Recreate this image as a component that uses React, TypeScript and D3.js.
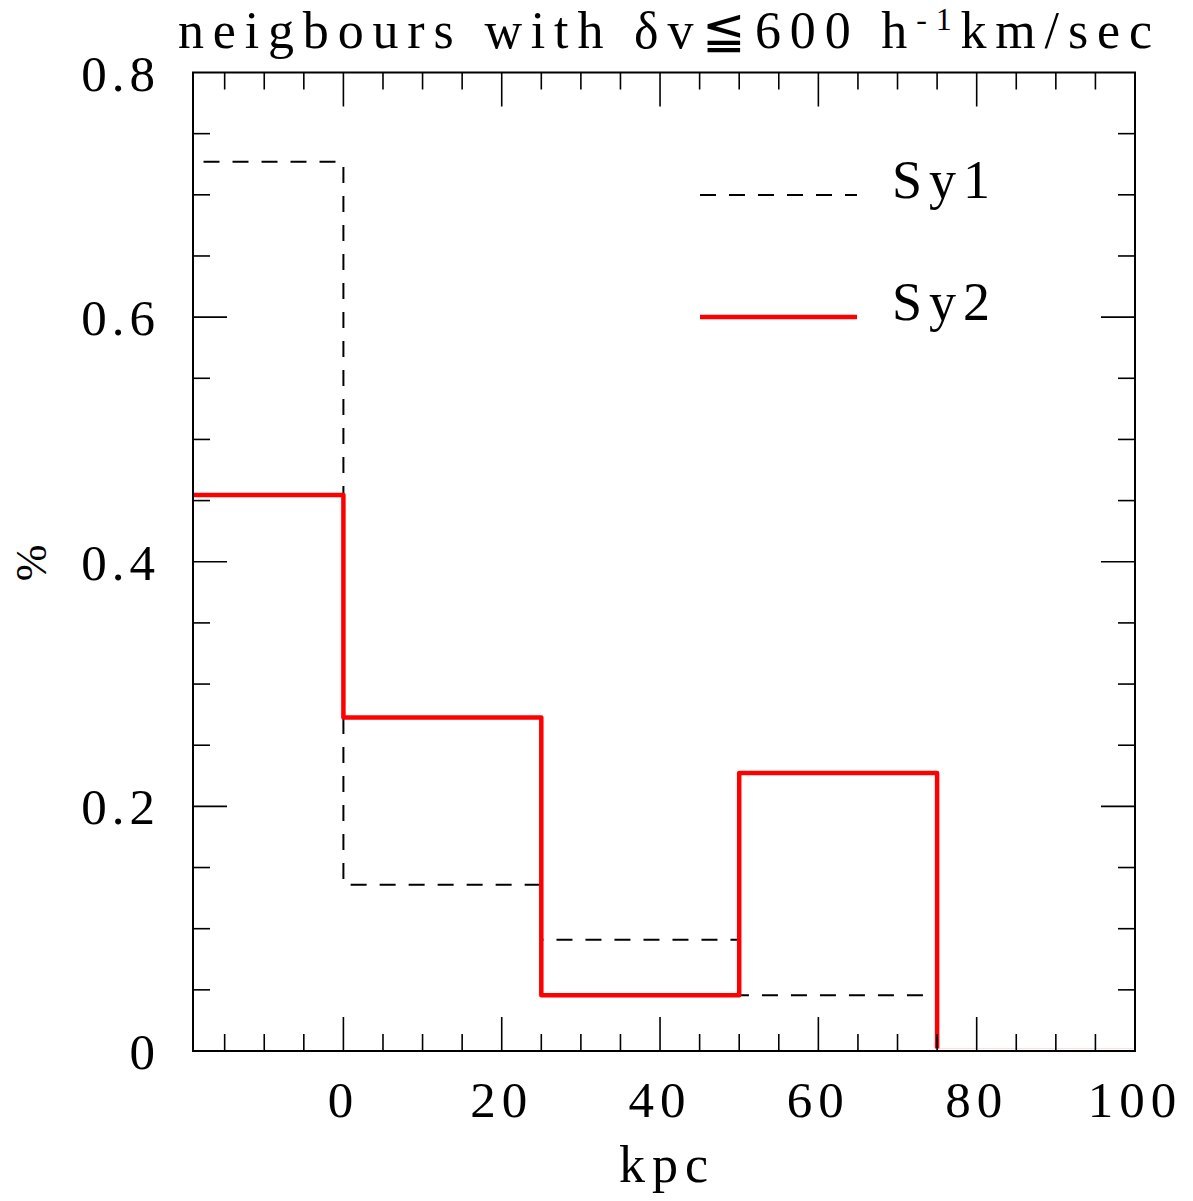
import React, { useRef, useEffect } from 'react';
import * as d3 from 'd3';

// bin edges in kpc, fraction per bin
const binEdges = [-25, 0, 25, 50, 75, 100];
const sy1Values = [0.727, 0.136, 0.0909, 0.0455, 0];
const sy2Values = [0.4545, 0.2727, 0.0455, 0.2273, 0];
const xTickLabels = [0, 20, 40, 60, 80, 100];
const yTickLabels = [0, 0.2, 0.4, 0.6, 0.8];
const seriesNames = ['Sy1', 'Sy2'];

const FONT = '"Liberation Serif", "DejaVu Serif", serif';

const App = () => {
  const ref = useRef<SVGSVGElement>(null);

  useEffect(() => {
    const svg = d3.select(ref.current);
    svg.selectAll('*').remove();

    const left = 193, right = 1135, top = 72.5, bottom = 1051;

    const x = d3.scaleLinear().domain([-19, 100]).range([left, right]);
    const y = d3.scaleLinear().domain([0, 0.8]).range([bottom, top]);

    // clip just above the x axis so the zero-level part hides under the frame
    svg.append('defs').append('clipPath').attr('id', 'plot-clip')
      .append('rect')
      .attr('x', left).attr('y', top)
      .attr('width', right - left).attr('height', bottom - top - 2.5);

    const stepPoints = (vals: number[]) => {
      const pts = vals.map((v, i) => [binEdges[i], v] as [number, number]);
      pts.push([binEdges[binEdges.length - 1], vals[vals.length - 1]]);
      return pts;
    };

    const line = d3.line<[number, number]>()
      .x(d => x(d[0]))
      .y(d => y(d[1]))
      .curve(d3.curveStepAfter);

    const g = svg.append('g').attr('clip-path', 'url(#plot-clip)');

    g.append('path')
      .datum(stepPoints(sy1Values))
      .attr('fill', 'none')
      .attr('stroke', 'black')
      .attr('stroke-width', 2)
      .attr('stroke-dasharray', '16,13')
      .attr('d', line);

    g.append('path')
      .datum(stepPoints(sy2Values))
      .attr('fill', 'none')
      .attr('stroke', '#ff0000')
      .attr('stroke-width', 4.5)
      .attr('stroke-linejoin', 'round')
      .attr('d', line);

    // frame
    svg.append('rect')
      .attr('x', left).attr('y', top)
      .attr('width', right - left).attr('height', bottom - top)
      .attr('fill', 'none')
      .attr('stroke', 'black')
      .attr('stroke-width', 2);

    const ticks = svg.append('g').attr('stroke', 'black').attr('stroke-width', 1.6);

    d3.range(-15, 100, 5).forEach(v => {
      const len = v % 20 === 0 ? 34 : 17;
      const px = x(v);
      ticks.append('line').attr('x1', px).attr('x2', px).attr('y1', bottom).attr('y2', bottom - len);
      ticks.append('line').attr('x1', px).attr('x2', px).attr('y1', top).attr('y2', top + len);
    });

    d3.range(0.05, 0.8, 0.05).forEach(v => {
      const major = Math.abs(v / 0.2 - Math.round(v / 0.2)) < 1e-6;
      const len = major ? 34 : 17;
      const py = y(v);
      ticks.append('line').attr('x1', left).attr('x2', left + len).attr('y1', py).attr('y2', py);
      ticks.append('line').attr('x1', right).attr('x2', right - len).attr('y1', py).attr('y2', py);
    });

    const text = (sel: any) => sel
      .attr('font-family', FONT)
      .attr('fill', 'black');

    xTickLabels.forEach(v => {
      svg.append('text').call(text)
        .attr('x', x(v)).attr('y', 1117)
        .attr('text-anchor', 'middle')
        .attr('font-size', 51)
        .attr('letter-spacing', 6)
        .text(String(v));
    });

    yTickLabels.forEach(v => {
      svg.append('text').call(text)
        .attr('x', 160).attr('y', y(v) + 18)
        .attr('text-anchor', 'end')
        .attr('font-size', 51)
        .attr('letter-spacing', 5)
        .text(v === 0 ? '0' : String(v));
    });

    svg.append('text').call(text)
      .attr('x', 667).attr('y', 1182)
      .attr('text-anchor', 'middle')
      .attr('font-size', 52)
      .attr('letter-spacing', 7)
      .text('kpc');

    svg.append('text').call(text)
      .attr('transform', 'translate(46,563) rotate(-90)')
      .attr('text-anchor', 'middle')
      .attr('font-size', 44)
      .text('%');

    const title = svg.append('text').call(text)
      .attr('x', 178).attr('y', 48)
      .attr('font-size', 52)
      .attr('textLength', 974)
      .attr('lengthAdjust', 'spacing');
    title.append('tspan').text('neigbours with δv≦600 h');
    title.append('tspan').attr('font-size', 32).attr('dy', -18).text('-1');
    title.append('tspan').attr('dy', 18).text('km/sec');

    // legend
    const legendY = [195, 317];
    seriesNames.forEach((name, i) => {
      svg.append('line')
        .attr('x1', 700).attr('x2', 857)
        .attr('y1', legendY[i]).attr('y2', legendY[i])
        .attr('stroke', i === 0 ? 'black' : '#ff0000')
        .attr('stroke-width', i === 0 ? 2 : 4.5)
        .attr('stroke-dasharray', i === 0 ? '16,13' : null);
      svg.append('text').call(text)
        .attr('x', 892).attr('y', legendY[i] + 3)
        .attr('font-size', 54)
        .attr('letter-spacing', 7)
        .text(name);
    });
  }, []);

  return (
    <svg
      ref={ref}
      width={1193}
      height={1201}
      style={{ position: 'absolute', left: 0, top: 0, background: 'white' }}
    />
  );
};

export default App;
